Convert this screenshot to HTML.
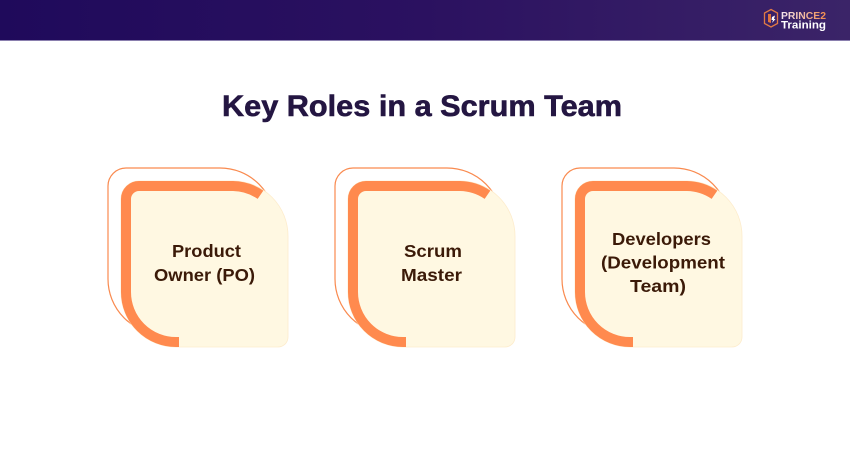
<!DOCTYPE html>
<html><head><meta charset="utf-8"><style>
html,body{margin:0;padding:0;background:#fff;}
svg{display:block;}
</style></head><body>
<svg width="850" height="450" viewBox="0 0 850 450" xmlns="http://www.w3.org/2000/svg">
<defs>
<linearGradient id="hdr" x1="0" y1="0" x2="1" y2="0">
<stop offset="0" stop-color="#1f0a5b"/>
<stop offset="0.5" stop-color="#2b1160"/>
<stop offset="1" stop-color="#3b2468"/>
</linearGradient>
<linearGradient id="pr" x1="0" y1="0" x2="1" y2="0">
<stop offset="0" stop-color="#f4e6f0"/>
<stop offset="0.5" stop-color="#f0b9a0"/>
<stop offset="1" stop-color="#f08a4a"/>
</linearGradient>
<g id="card">
<path d="M126,168 H220 A55,55 0 0 1 275,223 V324 A10,10 0 0 1 265,334 H163 A55,55 0 0 1 108,279 V186 A18,18 0 0 1 126,168 Z" fill="none" stroke="#f98a4f" stroke-width="1.2"/>
<path d="M139,181 H233 A55,55 0 0 1 288,236 V337 A10,10 0 0 1 278,347 H176 A55,55 0 0 1 121,292 V199 A18,18 0 0 1 139,181 Z" fill="#fff8e2" stroke="#fdeccc" stroke-width="0.8"/>
<path d="M179,342 H176 A50,50 0 0 1 126,292 V199 A13,13 0 0 1 139,186 H233 A50,50 0 0 1 260.5,194.8" fill="none" stroke="#ff8a4e" stroke-width="10" stroke-linecap="butt"/>
</g>
</defs>
<rect x="0" y="0" width="850" height="40" fill="url(#hdr)"/>
<rect x="0" y="40" width="850" height="1" fill="#8a7fae"/>
<!-- logo -->
<path d="M771,9.5 L777.5,13 L777.5,23.5 L771,27 L764.5,23.5 L764.5,13 Z" fill="none" stroke="#e07a45" stroke-width="1.3"/>
<path d="M768,14 L771,14 L771,23 L768,22 Z" fill="#e0743e"/>
<path d="M772,17 L775,15.5 L774,19 L775.5,19 L772,23 L773,20 L771.5,20 Z" fill="#ffffff"/>
<text x="781" y="19" font-family="Liberation Sans, sans-serif" font-weight="bold" font-size="10" fill="url(#pr)" textLength="45" lengthAdjust="spacingAndGlyphs">PRINCE2</text>
<text x="781" y="28.5" font-family="Liberation Sans, sans-serif" font-weight="bold" font-size="11" fill="#ffffff" textLength="45" lengthAdjust="spacingAndGlyphs">Training</text>
<!-- title -->
<text x="222" y="116" font-family="Liberation Sans, sans-serif" font-weight="bold" font-size="29.5" fill="#241642" stroke="#241642" stroke-width="0.6" textLength="400" lengthAdjust="spacingAndGlyphs">Key Roles in a Scrum Team</text>
<!-- cards -->
<use href="#card"/>
<use href="#card" transform="translate(227,0)"/>
<use href="#card" transform="translate(454,0)"/>
<g font-family="Liberation Sans, sans-serif" font-weight="bold" font-size="17.5" fill="#3b1a08" text-anchor="middle">
<text x="206.5" y="257" textLength="69" lengthAdjust="spacingAndGlyphs">Product</text>
<text x="204.5" y="281" textLength="101" lengthAdjust="spacingAndGlyphs">Owner (PO)</text>
<text x="433" y="257" textLength="58" lengthAdjust="spacingAndGlyphs">Scrum</text>
<text x="431.5" y="281" textLength="61" lengthAdjust="spacingAndGlyphs">Master</text>
<text x="661.5" y="245" textLength="99" lengthAdjust="spacingAndGlyphs">Developers</text>
<text x="663" y="268.5" textLength="124" lengthAdjust="spacingAndGlyphs">(Development</text>
<text x="658" y="292" textLength="56" lengthAdjust="spacingAndGlyphs">Team)</text>
</g>
</svg>
</body></html>
